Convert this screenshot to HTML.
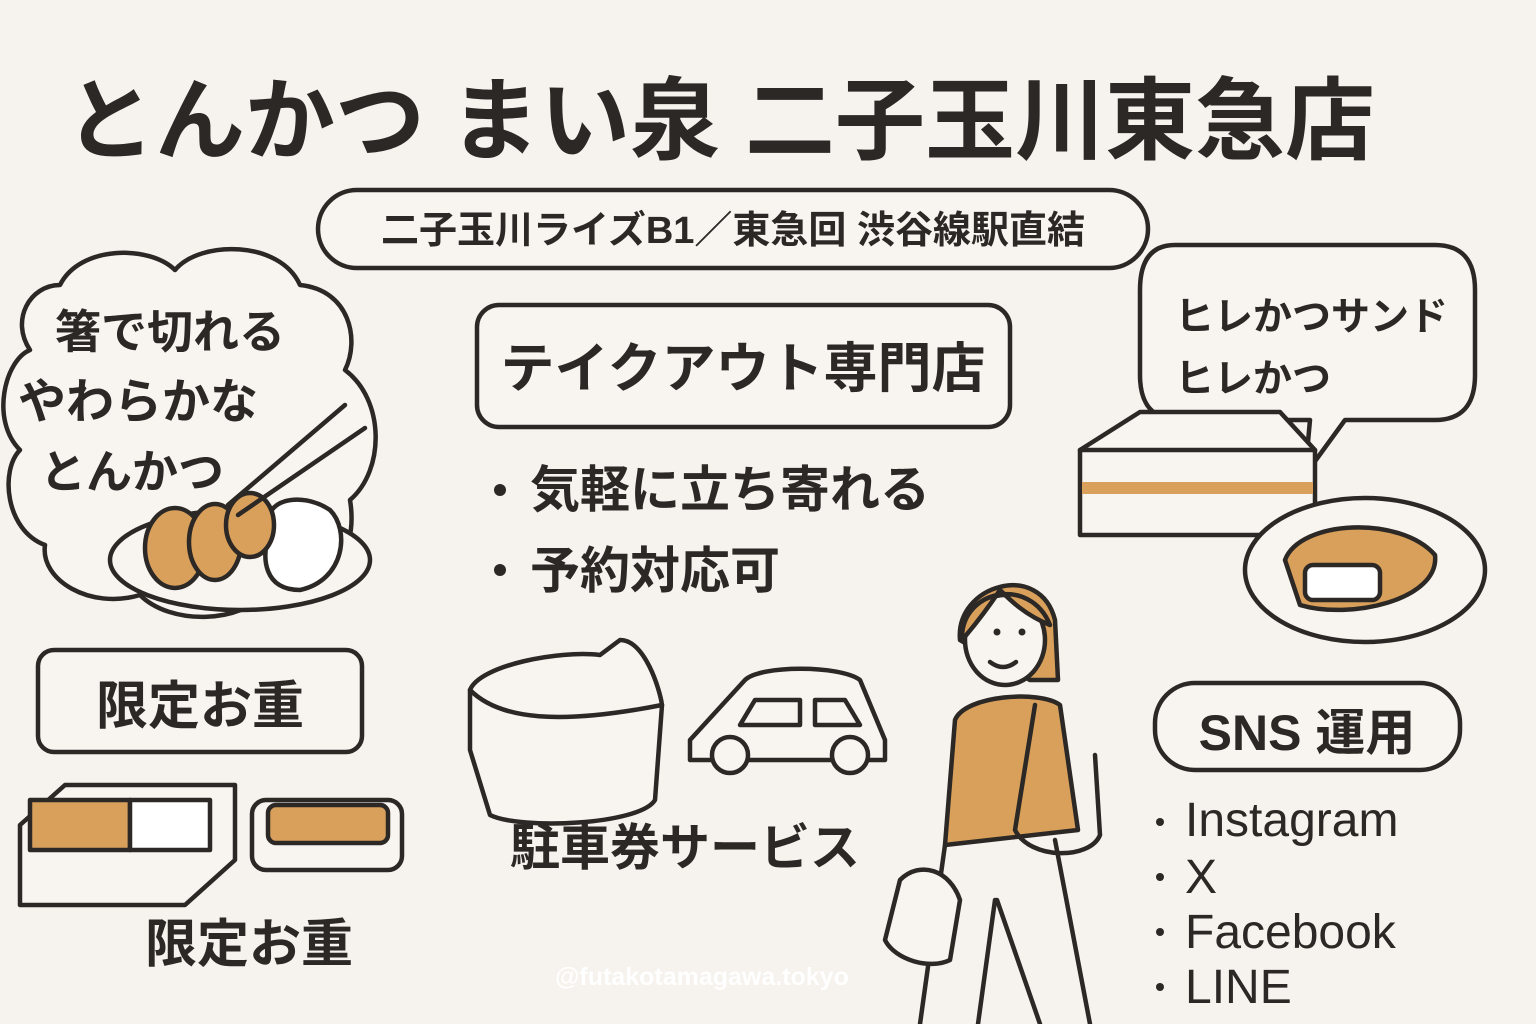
<!DOCTYPE html>
<html><head><meta charset="utf-8"><style>
html,body{margin:0;padding:0;background:#f6f2ed;}
svg{display:block}
text{font-family:"Liberation Sans","Noto Sans CJK JP",sans-serif;fill:#2b2826;}
</style></head><body>
<svg width="1536" height="1024" viewBox="0 0 1536 1024" xmlns="http://www.w3.org/2000/svg">
<rect width="1536" height="1024" fill="#f6f2ed"/>
<g stroke="#2b2826" stroke-width="4.5" fill="none" stroke-linecap="round" stroke-linejoin="round">
<rect x="318" y="190" width="830" height="78" rx="39" fill="#f8f5f1"/>
<path d="M60,285 C80,245 150,245 175,270 C200,240 280,240 300,285 C350,290 360,340 345,370 C385,400 385,470 350,500 C360,560 320,600 270,590 C240,625 170,625 140,595 C90,610 40,580 45,545 C5,530 0,470 20,450 C-10,420 5,360 30,350 C10,320 30,285 60,285 Z" fill="#f8f5f1"/>
<ellipse cx="240" cy="560" rx="130" ry="50" fill="#f8f5f1"/>
<path d="M270,530 C260,500 300,490 330,510 C350,530 345,580 300,590 C265,590 260,560 270,530 Z" fill="#fff"/>
<ellipse cx="175" cy="548" rx="30" ry="40" fill="#d9a05b"/>
<ellipse cx="215" cy="542" rx="26" ry="38" fill="#d9a05b"/>
<ellipse cx="250" cy="525" rx="24" ry="32" fill="#d9a05b"/>
<line x1="228" y1="505" x2="345" y2="405"/>
<line x1="238" y1="515" x2="365" y2="428"/>
<rect x="477" y="305" width="533" height="122" rx="22" fill="#f8f5f1"/>
<path d="M1175,245 H1435 Q1475,245 1475,290 V375 Q1475,420 1435,420 H1345 L1305,475 L1310,420 H1180 Q1140,420 1140,375 V290 Q1140,245 1175,245 Z" fill="#f8f5f1"/>
<path d="M1080,450 L1140,412 H1280 L1315,450 V535 H1080 Z" fill="#f8f5f1"/>
<line x1="1080" y1="450" x2="1315" y2="450"/>
<rect x="1082" y="482" width="231" height="12" fill="#d9a05b" stroke="none"/>
<ellipse cx="1365" cy="570" rx="120" ry="72" fill="#f8f5f1"/>
<path d="M1285,560 C1300,520 1400,515 1435,555 C1440,600 1350,620 1300,605 Z" fill="#d9a05b"/>
<rect x="1305" y="565" width="75" height="35" rx="8" fill="#fff"/>
<rect x="38" y="650" width="324" height="102" rx="16" fill="#f8f5f1"/>
<path d="M20,825 L65,785 H235 V860 L185,905 H20 Z" fill="#f8f5f1"/>
<rect x="30" y="800" width="100" height="50" fill="#d9a05b"/>
<rect x="130" y="800" width="80" height="50" fill="#fff"/>
<rect x="252" y="800" width="150" height="70" rx="14" fill="#f8f5f1"/>
<rect x="268" y="805" width="120" height="38" rx="8" fill="#d9a05b"/>
<path d="M470,690 C480,665 560,650 600,655 L620,640 C645,640 660,690 662,705 L655,800 C640,825 520,830 490,815 L470,750 Z" fill="#f8f5f1"/>
<path d="M470,690 C500,720 560,725 662,705"/>
<path d="M690,740 L745,680 C760,665 840,665 860,680 L885,740 V760 H690 Z" fill="#f8f5f1"/>
<circle cx="730" cy="755" r="18" fill="#f8f5f1"/>
<circle cx="850" cy="755" r="18" fill="#f8f5f1"/>
<path d="M755,700 H800 V725 H740 Z M815,700 H845 L860,725 H815 Z"/>
<!-- person -->
<path d="M960,640 C955,585 1040,560 1055,620 L1058,680 H1030 Z" fill="#d9a05b"/>
<ellipse cx="1005" cy="640" rx="40" ry="45" fill="#f8f5f1"/>
<path d="M962,640 C960,590 1030,575 1050,625 C1025,615 1010,600 1000,590 C990,605 975,625 962,640Z" fill="#d9a05b"/>
<path d="M990,662 Q1003,672 1016,662"/>
<path d="M955,720 C965,695 1040,690 1060,705 L1078,830 L945,845 Z" fill="#d9a05b"/>
<path d="M945,845 L920,1024 M1055,840 L1090,1024 M995,900 L978,1024 M997,900 L1040,1024"/>
<path d="M1035,705 L1015,830 C1030,860 1090,860 1100,835 L1095,755"/>
<path d="M900,880 C920,860 950,870 960,900 L950,960 C930,970 895,960 885,940 Z" fill="#f8f5f1"/>
<rect x="1155" y="683" width="305" height="87" rx="40" fill="#f8f5f1"/>
</g>
<g fill="#2b2826" stroke="none">
<circle cx="997" cy="632" r="3.5"/><circle cx="1022" cy="632" r="3.5"/>
<circle cx="1160" cy="822" r="4"/><circle cx="1160" cy="877" r="4"/><circle cx="1160" cy="932" r="4"/><circle cx="1160" cy="987" r="4"/>
<circle cx="500" cy="490" r="6"/><circle cx="500" cy="570" r="6"/>
</g>
<text x="65" y="152" font-size="90" font-weight="bold">とんかつ まい泉 二子玉川東急店</text>
<text x="733" y="243" font-size="38" font-weight="600" text-anchor="middle">二子玉川ライズB1／東急回 渋谷線駅直結</text>
<text x="55" y="348" font-size="46" font-weight="600">箸で切れる</text>
<text x="18" y="418" font-size="48" font-weight="600">やわらかな</text>
<text x="40" y="488" font-size="46" font-weight="600">とんかつ</text>
<text x="743" y="387" font-size="54" font-weight="600" text-anchor="middle">テイクアウト専門店</text>
<text x="530" y="507" font-size="50" font-weight="600">気軽に立ち寄れる</text>
<text x="530" y="588" font-size="50" font-weight="600">予約対応可</text>
<text x="1175" y="330" font-size="39" font-weight="600">ヒレかつサンド</text>
<text x="1175" y="392" font-size="39" font-weight="600">ヒレかつ</text>
<text x="200" y="724" font-size="52" font-weight="600" text-anchor="middle">限定お重</text>
<text x="145" y="962" font-size="52" font-weight="600">限定お重</text>
<text x="510" y="865" font-size="50" font-weight="600">駐車券サービス</text>
<text x="1307" y="750" font-size="50" font-weight="600" text-anchor="middle">SNS 運用</text>
<text x="1185" y="836" font-size="48">Instagram</text>
<text x="1185" y="893" font-size="48">X</text>
<text x="1185" y="948" font-size="48">Facebook</text>
<text x="1185" y="1003" font-size="48">LINE</text>
<text x="555" y="985" font-size="25" font-weight="bold" style="fill:#ffffff">@futakotamagawa.tokyo</text>
</svg>
</body></html>
